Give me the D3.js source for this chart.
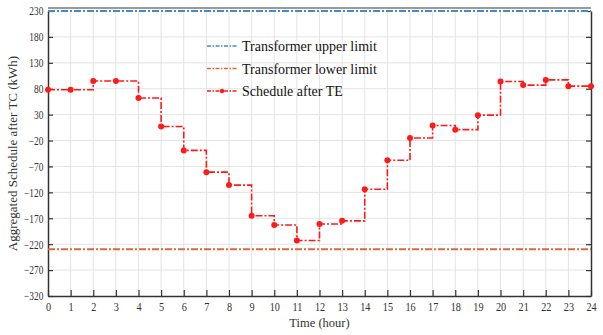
<!DOCTYPE html>
<html>
<head>
<meta charset="utf-8">
<script src="https://cdn.jsdelivr.net/npm/d3@7"></script>
<style>
  body { margin: 0; background: #fff; }
  svg, svg text { font-family: "Liberation Serif", "Times New Roman", "DejaVu Serif", serif; }
</style>
</head>
<body>
<svg width="603" height="335"></svg>
<script>
// hours 0..24 and the aggregated schedule after TE (kWh)
const hours = d3.range(0, 25)
const schedule = [78, 78, 95, 95, 62, 7, -39, -81, -106, -165, -183, -213, -181, -175,
  -114, -58, -15, 9, 1, 29, 94, 87, 97, 85, 85]
const upperLimit = 230
const lowerLimit = -230
const yTicks = [230, 180, 130, 80, 30, -20, -70, -120, -170, -220, -270, -320]
const legendLabels = ['Transformer upper limit', 'Transformer lower limit', 'Schedule after TE']

const serif = '"Liberation Serif", "Times New Roman", serif'
const svg = d3.select('svg')
const margin = { left: 48, right: 12, top: 11, bottom: 39 }
const W = 603, H = 335

const x = d3.scaleLinear().domain([0, 24]).range([margin.left, W - margin.right])
const y = d3.scaleLinear().domain([-320, 230]).range([H - margin.bottom, margin.top])

// grid
const grid = svg.append('g').attr('stroke', '#e3e3e3').attr('stroke-width', 1)
grid.selectAll('.gx').data(hours.slice(1, -1)).enter().append('line')
  .attr('x1', d => x(d)).attr('x2', d => x(d))
  .attr('y1', y(230)).attr('y2', y(-320))
grid.selectAll('.gy').data(yTicks.slice(1, -1)).enter().append('line')
  .attr('x1', x(0)).attr('x2', x(24))
  .attr('y1', d => y(d)).attr('y2', d => y(d))

// frame: top border
svg.append('line').attr('x1', x(0)).attr('x2', x(24))
  .attr('y1', y(230) - 3).attr('y2', y(230) - 3)
  .attr('stroke', '#777').attr('stroke-width', 1.5)

// axes with inward ticks
const xAxis = svg.append('g').attr('transform', `translate(0,${y(-320)})`)
  .call(d3.axisBottom(x).tickValues(hours).tickSize(-6).tickPadding(6).tickSizeOuter(0))
const yAxis = svg.append('g').attr('transform', `translate(${x(0)},0)`)
  .call(d3.axisLeft(y).tickValues(yTicks).tickSize(-5).tickPadding(6).tickSizeOuter(0))
const yAxisR = svg.append('g').attr('transform', `translate(${x(24)},0)`)
  .call(d3.axisRight(y).tickValues(yTicks).tickSize(-5).tickFormat('').tickSizeOuter(0))

;[xAxis, yAxis, yAxisR].forEach(g => {
  g.attr('font-family', serif)
  g.select('.domain').attr('stroke', '#333').attr('stroke-width', 1.5)
  g.selectAll('.tick line').attr('stroke', '#333').attr('stroke-width', 1.2)
  g.selectAll('text').attr('font-family', serif)
    .attr('font-size', 12).attr('fill', '#333')
})
// narrow tick labels, like the reference
yAxis.selectAll('text').attr('x', -6).attr('transform', 'scale(0.78,1)')
xAxis.selectAll('text').attr('transform', 'scale(0.85,1)')

// axis titles
svg.append('text').attr('x', (x(0) + x(24)) / 2).attr('y', 327)
  .attr('text-anchor', 'middle').attr('font-size', 12.5).attr('fill', '#333')
  .attr('font-family', serif)
  .text('Time (hour)')
svg.append('text')
  .attr('transform', `translate(17,${(y(230) + y(-320)) / 2}) rotate(-90)`)
  .attr('text-anchor', 'middle').attr('font-size', 13).attr('fill', '#333')
  .attr('font-family', serif)
  .text('Aggregated Schedule after TC (kWh)')

// limits
const dashDot = '7,2,2,2'
svg.append('line').attr('x1', x(0)).attr('x2', x(24))
  .attr('y1', y(upperLimit)).attr('y2', y(upperLimit))
  .attr('stroke', '#3b8fd1').attr('stroke-width', 2).attr('stroke-dasharray', dashDot)
svg.append('line').attr('x1', x(0)).attr('x2', x(24))
  .attr('y1', y(lowerLimit)).attr('y2', y(lowerLimit))
  .attr('stroke', '#e0673a').attr('stroke-width', 2).attr('stroke-dasharray', dashDot)

// schedule step line
const line = d3.line().curve(d3.curveStepAfter)
  .x((d, i) => x(hours[i])).y(d => y(d))
svg.append('path').datum(schedule).attr('d', line)
  .attr('fill', 'none').attr('stroke', '#ff1a1a').attr('stroke-width', 1.6)
  .attr('stroke-dasharray', dashDot)
svg.selectAll('.pt').data(schedule).enter().append('circle')
  .attr('cx', (d, i) => x(hours[i])).attr('cy', d => y(d)).attr('r', 3)
  .attr('fill', '#ff1a1a')

// legend
const legendColors = ['#3b8fd1', '#e0673a', '#ff1a1a']
const lg = svg.append('g').attr('transform', 'translate(207,46)')
legendLabels.forEach((t, i) => {
  const row = lg.append('g').attr('transform', `translate(0,${i * 22.5})`)
  row.append('line').attr('x1', 0).attr('x2', 30).attr('y1', 0).attr('y2', 0)
    .attr('stroke', legendColors[i]).attr('stroke-width', 1.6)
    .attr('stroke-dasharray', '4,1.5,1.5,1.5')
  if (i === 2) row.append('circle').attr('cx', 15).attr('cy', 0).attr('r', 2.2).attr('fill', legendColors[i])
  row.append('text').attr('x', 35).attr('y', 5).attr('font-size', 14).attr('fill', '#111')
    .attr('font-family', serif).text(t)
})
</script>
</body>
</html>
